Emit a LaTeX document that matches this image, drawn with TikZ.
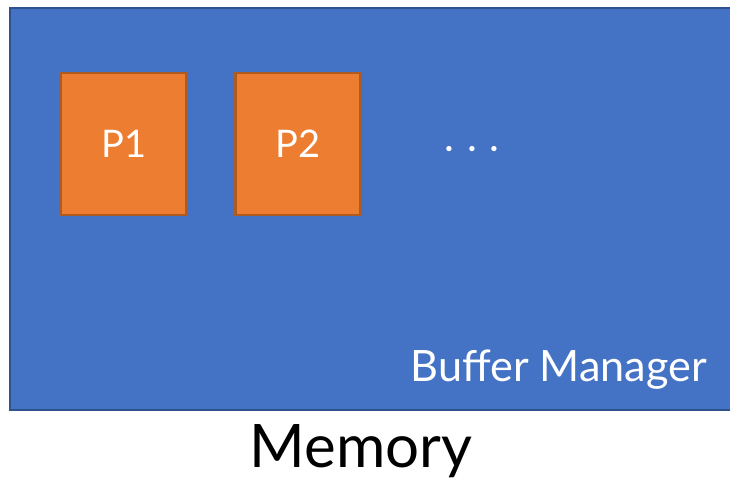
\documentclass[tikz,border=0pt]{standalone}
\usepackage{fontspec}
\setmainfont{Lato}
\usepackage{tikz}
\usetikzlibrary{positioning}

\definecolor{bmblue}{HTML}{4472C4}
\definecolor{bmedge}{HTML}{2F528F}
\definecolor{pgorange}{HTML}{ED7D31}
\definecolor{pgedge}{HTML}{AE5A21}

\begin{document}
\begin{tikzpicture}[x=0.5pt, y=-0.5pt, node distance=23.5pt]
    \tikzstyle{page} = [draw=pgedge, fill=pgorange, line width=1.2pt, minimum width=62.5pt, minimum height=71pt, inner sep=0pt, text=white, font=\fontsize{19}{22}\selectfont]

    \useasboundingbox (0,0) rectangle (730,478);

    % memory pool with the buffer manager
    \fill[bmblue] (10,8) rectangle (731,410);
    \draw[bmedge, line width=1pt] (731,8) -- (10,8) -- (10,410) -- (731,410);

    \node[page, anchor=north west] (p1) at (60,72) {P1};
    \node[page, right=of p1] (p2) {P2};
    \node[text=white, font=\fontsize{32}{34}\selectfont] (dots) at (472,150) {$\cdots$};

    \node[text=white, font=\fontsize{21.6}{24}\selectfont, anchor=base east] (bm) at (714,381) {Buffer Manager};
    \node[font=\fontsize{30}{36}\selectfont, anchor=base] (mem) at (361,467) {Memory};
\end{tikzpicture}
\end{document}
